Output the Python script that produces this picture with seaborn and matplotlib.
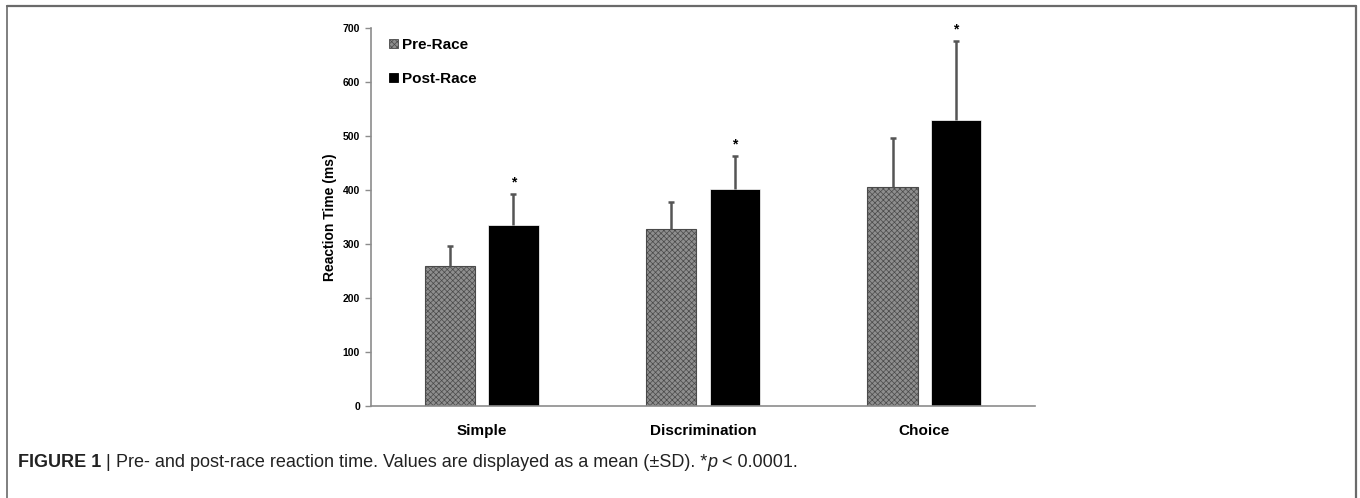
import matplotlib
matplotlib.use("Agg")
import matplotlib.pyplot as plt
import seaborn as sns
import pandas as pd
from matplotlib.patches import Patch
from matplotlib.lines import Line2D

categories = ["Simple", "Discrimination", "Choice"]
groups = ["Pre-Race", "Post-Race"]
pre_mean = [259, 327, 406]
post_mean = [336, 401, 530]
pre_sd = [38, 51, 91]
post_sd = [56, 62, 146]
y_ticks = [0, 100, 200, 300, 400, 500, 600, 700]

sns.set_theme(style="white")
plt.rcParams['font.family'] = ['Liberation Sans', 'DejaVu Sans']
plt.rcParams['hatch.linewidth'] = 0.5
plt.rcParams['text.color'] = 'black'
plt.rcParams['axes.labelcolor'] = 'black'
plt.rcParams['xtick.color'] = 'black'
plt.rcParams['ytick.color'] = 'black'

df = pd.DataFrame({
    "Task": categories * 2,
    "Group": [groups[0]] * 3 + [groups[1]] * 3,
    "RT": pre_mean + post_mean,
    "SD": pre_sd + post_sd,
})

fig = plt.figure(figsize=(13.6, 4.98), dpi=100)
ax = fig.add_axes([0.2728, 0.1847, 0.761 - 0.2728, 0.9438 - 0.1847])

pre_face = "#8e8e8e"
post_face = "#000000"
sns.barplot(data=df, x="Task", y="RT", hue="Group", order=categories,
            hue_order=groups, palette=[pre_face, post_face], width=0.574,
            gap=0.21, errorbar=None, legend=False, ax=ax, saturation=1)

# style bars
for cont, grp in zip(ax.containers, groups):
    for p in cont:
        if grp == "Pre-Race":
            p.set_hatch("xxxxxx")
            p.set_edgecolor("#4a4a4a")
            p.set_linewidth(0.8)
        else:
            p.set_edgecolor("white")
            p.set_linewidth(0.5)

# error bars (upper only) and stars
for cont, grp in zip(list(ax.containers), groups):
    sub = df[df["Group"] == grp].set_index("Task").loc[categories]
    xs = [p.get_x() + p.get_width() / 2 for p in cont]
    eb = ax.errorbar(xs, sub["RT"], yerr=[[0] * 3, sub["SD"]], fmt="none",
                     ecolor="#555555", elinewidth=1.8, capsize=2, capthick=1.8,
                     clip_on=False, zorder=3)
    caps = eb[1]
    if len(caps) >= 2:
        caps[0].set_visible(False)
    if grp == "Post-Race":
        for x, m, s in zip(xs, sub["RT"], sub["SD"]):
            ax.text(x, m + s + 22, "*", ha="center", va="center",
                    fontsize=10, fontweight="bold", clip_on=False)

ax.set_xlim(-0.5, 2.5)
ax.set_ylim(0, 700)
ax.set_yticks(y_ticks)
ax.set_yticklabels([str(t) for t in y_ticks], fontsize=7.5, fontweight="bold")
ax.set_xticks(range(len(categories)))
ax.set_xticklabels(categories, fontsize=11, fontweight="bold")
ax.set_xlabel("")
ax.set_ylabel("Reaction Time (ms)", fontsize=10, fontweight="bold", labelpad=4)
for s in ["top", "right"]:
    ax.spines[s].set_visible(False)
for s in ["left", "bottom"]:
    ax.spines[s].set_color("#8c8c8c")
    ax.spines[s].set_linewidth(1.2)
ax.tick_params(axis="y", left=True, length=4, width=1, color="#8c8c8c", pad=4)
ax.tick_params(axis="x", bottom=False, pad=7)

handles = [Patch(facecolor=pre_face, edgecolor="#4a4a4a", hatch="xxxxxx", linewidth=0.6),
           Patch(facecolor=post_face, edgecolor="black", linewidth=0.6)]
ax.legend(handles, groups, loc="upper left", bbox_to_anchor=(0.018, 0.99),
          frameon=False, borderaxespad=0, handlelength=0.6, handleheight=0.6,
          handletextpad=0.25, labelspacing=1.3,
          prop={"size": 11, "weight": "bold", "family": "Liberation Sans"})

# figure frame (open at bottom)
frame_c = "#6a6a6a"
fig.add_artist(Line2D([7 / 1360, 1356 / 1360], [1 - 6 / 498, 1 - 6 / 498], color=frame_c, lw=1.6))
fig.add_artist(Line2D([7 / 1360, 7 / 1360], [0, 1 - 6 / 498], color=frame_c, lw=1.2))
fig.add_artist(Line2D([1356 / 1360, 1356 / 1360], [0, 1 - 6 / 498], color=frame_c, lw=1.6))

# caption
fig.canvas.draw()
renderer = fig.canvas.get_renderer()
pieces = [("FIGURE 1 ", "bold", "normal"), ("| ", "normal", "normal"),
          ("Pre- and post-race reaction time. Values are displayed as a mean (\u00b1SD). *", "normal", "normal"),
          ("p", "normal", "italic"), (" < 0.0001.", "normal", "normal")]
x0 = 18 / 1360
ycap = 1 - 462 / 498
for txt, w, st in pieces:
    t = fig.text(x0, ycap, txt, fontsize=13, fontweight=w, fontstyle=st,
                 va="center", ha="left", color="#222222")
    bb = t.get_window_extent(renderer=renderer)
    x0 += bb.width / fig.bbox.width

fig.savefig("out.png", dpi=100)
